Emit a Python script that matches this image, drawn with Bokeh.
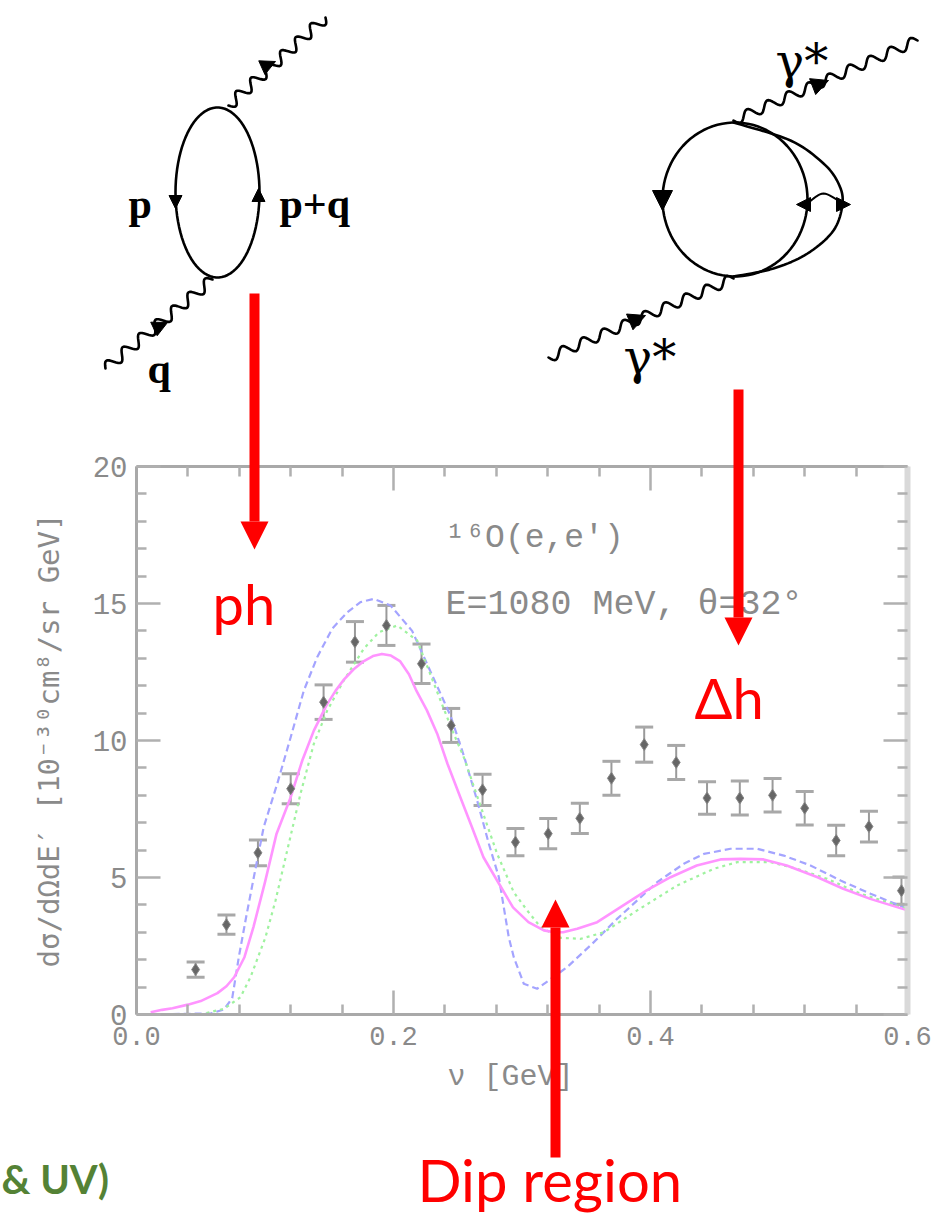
import math
from bokeh.embed import file_html
from bokeh.resources import INLINE
from bokeh.plotting import figure
from bokeh.models import (Arrow, ColumnDataSource, FixedTicker, Label, LinearAxis,
                          NormalHead, NumeralTickFormatter, Range1d, TeeHead, Whisker)

# ---- chart data ----
nu = [.046,.070,.0945,.120,.1456,.170,.1945,.2218,.2449,.2693,.2949,.3204,.345,.3696,.3951,.42,.444,.4695,.495,.52,.5445,.57,.5953]
sigma = [1.64,3.28,5.9,8.24,11.4,13.6,14.2,12.8,10.55,8.2,6.29,6.6,7.16,8.62,9.85,9.2,7.9,7.9,8.0,7.53,6.35,6.86,4.52]
sigma_err = [.28,.35,.47,.55,.63,.74,.73,.72,.62,.57,.5,.55,.55,.62,.64,.62,.59,.62,.61,.61,.56,.56,.5]

magenta_x = [.011,.02,.028,.04,.05,.063,.07,.076,.084,.091,.1,.109,.12,.129,.138,.148,.155,.161,.169,.177,.184,.191,.198,.205,.212,.218,.226,.234,.242,.252,.261,.27,.282,.293,.305,.317,.325,.332,.343,.3585,.3767,.397,.4156,.436,.4545,.47,.488,.506,.53,.55,.571,.6]
magenta_y = [.08,.17,.23,.36,.49,.78,1.03,1.36,2.09,3.19,4.83,6.6,7.93,9.27,10.36,11.3,11.82,12.2,12.6,12.9,13.08,13.16,13.1,12.9,12.42,11.8,11.1,10.25,9.15,7.93,6.84,5.74,4.78,3.91,3.37,3.07,3.0,3.0,3.13,3.37,3.92,4.53,5.01,5.44,5.66,5.68,5.66,5.44,5.01,4.59,4.22,3.8]
blue_x = [.011,.058,.068,.0745,.0796,.0853,.0913,.099,.1095,.12,.1302,.1406,.1523,.164,.1743,.1847,.1977,.2145,.2444,.2547,.2651,.2742,.282,.2858,.2897,.2936,.3014,.3118,.3352,.3546,.374,.4052,.4259,.4415,.4623,.483,.5037,.5245,.5479,.5712,.6]
blue_y = [0,.04,.18,.6,2.09,3.55,5.01,6.84,8.42,10.12,11.82,13.04,14.08,14.68,15.05,15.17,14.93,14.0,10.9,9.45,7.81,6.23,5.01,3.92,2.82,2.09,1.12,.94,1.73,2.58,3.49,4.83,5.5,5.86,6.05,6.05,5.8,5.44,4.89,4.41,3.86]
green_x = [.011,.05,.068,.0809,.0887,.1004,.1082,.1173,.1276,.138,.1484,.1613,.1769,.1886,.2029,.2184,.2366,.2469,.2547,.2703,.2807,.2936,.304,.3144,.33,.3455,.3637,.3897,.4208,.4493,.4675,.4934,.5141,.5375,.5634,.6]
green_y = [0,0,.21,.63,1.36,2.82,4.16,5.99,8.05,9.88,11.09,12.19,13.35,13.95,14.2,13.65,11.46,10.24,9.39,7.26,5.86,4.46,3.8,3.19,2.8,2.76,3.0,3.8,4.71,5.32,5.56,5.56,5.32,4.95,4.41,3.86]

x_major = [0.0, 0.2, 0.4, 0.6]
x_minor = [.04,.08,.12,.16,.24,.28,.32,.36,.44,.48,.52,.56]
y_major = [0, 5, 10, 15, 20]
y_minor = [1,2,3,4,6,7,8,9,11,12,13,14,16,17,18,19]

y_title = "dσ/dΩdE′ [10⁻³⁰cm⁸/sr GeV]"
x_title = "ν [GeV]"
reaction = "¹⁶O(e,e′)"
kinematics = "E=1080 MeV, θ=32°"

# ---- page geometry: plot frame in page pixels ----
W, H = 949, 1218
L, R, T, B = 136, 907, 466, 1014
GREY = "#8a8a8a"

p = figure(width=W, height=H, output_backend="svg", toolbar_location=None,
           x_range=Range1d(0, 0.6), y_range=Range1d(0, 20),
           min_border_left=L, min_border_right=W - R, min_border_top=T, min_border_bottom=H - B,
           x_axis_location=None, y_axis_location=None,
           background_fill_color="white", border_fill_color="white", outline_line_color=None)
p.styles = {"position": "absolute", "left": "0px", "top": "0px"}
p.grid.visible = False

def style_axis(ax, ticks, minor, color="#a9a9a9", width=3):
    ax.ticker = FixedTicker(ticks=ticks, minor_ticks=minor)
    ax.axis_line_color = color
    ax.axis_line_width = width
    ax.major_tick_line_color = "#b0b0b0"
    ax.minor_tick_line_color = "#b0b0b0"
    ax.major_tick_line_width = 2.5
    ax.minor_tick_line_width = 2.5
    ax.major_tick_in = 24
    ax.major_tick_out = 0
    ax.minor_tick_in = 10
    ax.minor_tick_out = 0

left = LinearAxis(axis_label=y_title, axis_label_text_font="DejaVu Sans Mono",
                  axis_label_text_font_size="29px", axis_label_text_font_style="normal",
                  axis_label_text_color=GREY, axis_label_standoff=24)
style_axis(left, y_major, y_minor)
left.major_label_text_font = "Liberation Mono"
left.major_label_text_font_size = "29px"
left.major_label_text_color = GREY
left.major_label_standoff = 9
p.add_layout(left, "left")

below = LinearAxis(formatter=NumeralTickFormatter(format="0.0"))
style_axis(below, x_major, x_minor)
below.major_label_text_font = "Liberation Mono"
below.major_label_text_font_size = "27px"
below.major_label_text_color = GREY
below.major_label_standoff = 12
p.add_layout(below, "below")

right = LinearAxis(major_label_text_color=None, major_label_text_font_size="1px")
style_axis(right, y_major, y_minor, color="#d9d9d9", width=6)
p.add_layout(right, "right")
top = LinearAxis(major_label_text_color=None, major_label_text_font_size="1px")
style_axis(top, x_major, x_minor)
p.add_layout(top, "above")

# ---- curves and data ----
p.line(blue_x, blue_y, line_color="#a4a4ff", line_width=2.2, line_dash="7 4", line_join="round")
p.line(green_x, green_y, line_color="#9ff29f", line_width=2.2, line_dash="3 4", line_join="round")
p.line(magenta_x, magenta_y, line_color="#ff94ff", line_width=2.6, line_join="round")

err_src = ColumnDataSource(dict(x=nu,
                                lo=[s - e for s, e in zip(sigma, sigma_err)],
                                hi=[s + e for s, e in zip(sigma, sigma_err)]))
p.add_layout(Whisker(source=err_src, base="x", lower="lo", upper="hi", dimension="height",
                     line_color="#9a9a9a", line_width=2,
                     lower_head=TeeHead(size=18, line_color="#a8a8a8", line_width=3),
                     upper_head=TeeHead(size=18, line_color="#a8a8a8", line_width=3)))
p.scatter(nu, sigma, marker="diamond", size=12, fill_color="#666666", line_color="#888888")

# ---- transparent overlay in page pixels: diagrams, annotations ----
o = figure(width=W, height=H, output_backend="svg", toolbar_location=None,
           x_range=Range1d(0, W), y_range=Range1d(H, 0),
           min_border=0, x_axis_location=None, y_axis_location=None,
           background_fill_color=None, border_fill_color=None, outline_line_color=None)
o.styles = {"position": "absolute", "left": "0px", "top": "0px"}
o.grid.visible = False

def text(s, px, py, size, color=GREY, font="Liberation Mono", style="normal", align="left"):
    o.add_layout(Label(x=px, y=py, text=s, text_font_size=f"{size}px", text_color=color,
                       text_font=font, text_font_style=style, text_align=align,
                       text_baseline="middle"))

text(reaction, 445, 538, 33)
text(kinematics, 445, 604, 35)
text(x_title, 510, 1076, 30, align="center")

RED = "#ff0000"
text("ph", 212, 603, 56, RED, "Lato")
text("Δh", 694, 697, 56, RED, "Lato")
text("Dip region", 417, 1179, 58, RED, "Lato")
text("& UV)", 1, 1178, 40, "#548235", "Lato", "bold")

SERIF = "Liberation Serif"
text("p", 128, 203, 42, "black", SERIF, "bold")
text("p+q", 279, 203, 42, "black", SERIF, "bold")
text("q", 147, 368, 42, "black", SERIF, "bold")
text("γ*", 775, 60, 48, "black", "DejaVu Serif")
text("γ*", 623, 356, 48, "black", "DejaVu Serif")

def polyline(pts, width=2.6):
    o.line([a[0] for a in pts], [a[1] for a in pts], line_color="black", line_width=width,
           line_join="round", line_cap="round")

def ellipse_arc(cx, cy, rx, ry, n=90):
    return [(cx + rx * math.cos(2 * math.pi * i / n), cy + ry * math.sin(2 * math.pi * i / n))
            for i in range(n + 1)]

def wiggle(a, b, periods, amp=5.5, per=16):
    n = int(periods * per)
    dx, dy = b[0] - a[0], b[1] - a[1]
    ln = math.hypot(dx, dy)
    nx, ny = -dy / ln, dx / ln
    out = []
    for i in range(n + 1):
        t = i / n
        s = amp * math.sin(2 * math.pi * periods * t)
        out.append((a[0] + dx * t + nx * s, a[1] + dy * t + ny * s))
    return out

def smooth(ctrl, steps=10):
    pts = [ctrl[0], *ctrl, ctrl[-1]]
    out = []
    for i in range(1, len(pts) - 2):
        p0, p1, p2, p3 = pts[i - 1], pts[i], pts[i + 1], pts[i + 2]
        for k in range(steps):
            t = k / steps
            out.append(tuple(0.5 * (2 * p1[j] + (p2[j] - p0[j]) * t
                                    + (2 * p0[j] - 5 * p1[j] + 4 * p2[j] - p3[j]) * t * t
                                    + (3 * p1[j] - p0[j] - 3 * p2[j] + p3[j]) * t ** 3) for j in (0, 1)))
    out.append(ctrl[-1])
    return out

def head(a, b, size=13):
    o.add_layout(Arrow(end=NormalHead(size=size, fill_color="black", line_color="black", line_width=1),
                       x_start=a[0], y_start=a[1], x_end=b[0], y_end=b[1],
                       line_color="black", line_width=1, line_alpha=0))

# left diagram
polyline(ellipse_arc(217, 192, 42, 85))
polyline(wiggle((228, 105), (325, 17), 6.5))
polyline(wiggle((212, 279), (105, 368), 6.5))
head((175, 190), (175, 208))
head((258, 206), (258, 188))
head((255, 70), (275, 61), 15)
head((146, 332), (167, 322), 15)

# right diagram
polyline(ellipse_arc(734.5, 199, 72.5, 77))
polyline(smooth([(733, 122), (790, 140), (823, 163), (838, 183), (842, 203), (833, 230),
                 (807, 253), (773, 268), (733, 276)]))
polyline(smooth([(807, 203), (823, 193), (842, 203)]), 2)
polyline(wiggle((733, 120), (917, 40), 9, amp=5))
polyline(wiggle((733, 278), (548, 357), 9, amp=5))
head((662, 192), (662, 210), 20)
head((806, 204), (796, 204), 14)
head((840, 204), (850, 204), 14)
head((802, 90), (828, 80), 17)
head((618, 326), (645, 315), 17)

def red_arrow(x, y0, y1):
    o.add_layout(Arrow(end=NormalHead(size=28, fill_color=RED, line_color=RED, line_width=0),
                       x_start=x, y_start=y0, x_end=x, y_end=y1,
                       line_color=RED, line_width=10))

red_arrow(254, 293, 549)
red_arrow(738, 389, 645)
red_arrow(555, 1157, 899)

open("out.html", "w").write(file_html([p, o], INLINE))
